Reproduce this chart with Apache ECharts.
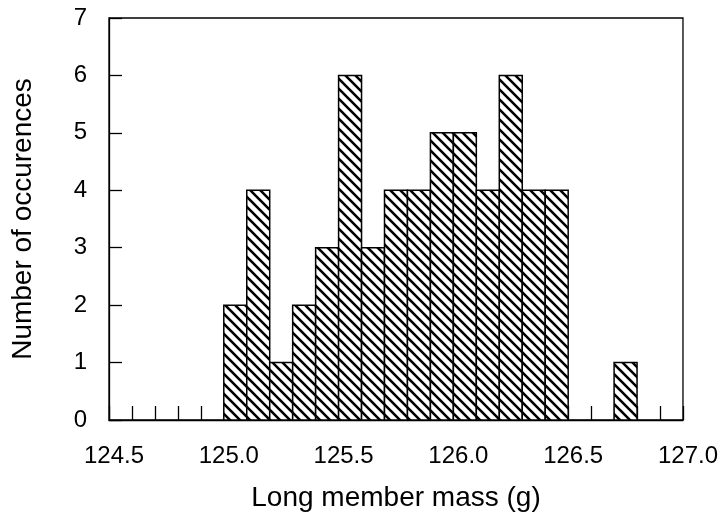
<!DOCTYPE html>
<html>
<head>
<meta charset="utf-8">
<script src="https://cdn.jsdelivr.net/npm/echarts@6/dist/echarts.min.js"></script>
<style>html,body{margin:0;padding:0;background:#fff}#c{width:721px;height:520px}</style>
</head>
<body>
<div id="c"></div>
<script>
// Histogram bins (lower edge, upper edge) and counts
const binStarts = [125.0,125.1,125.2,125.3,125.4,125.5,125.6,125.7,125.8,125.9,126.0,126.1,126.2,126.3,126.4,126.7];
const binEnds   = [125.1,125.2,125.3,125.4,125.5,125.6,125.7,125.8,125.9,126.0,126.1,126.2,126.3,126.4,126.5,126.8];
const counts    = [2,4,1,2,3,6,3,4,4,5,5,4,6,4,4,1];
const xTickLabels = ['124.5','125.0','125.5','126.0','126.5','127.0'];
const yTickLabels = ['0','1','2','3','4','5','6','7'];
const xTitle = 'Long member mass (g)';
const yTitle = 'Number of occurences';

// hatch pattern
const pc = document.createElement('canvas');
pc.width = 10; pc.height = 10;
const g = pc.getContext('2d');
g.fillStyle = '#fff'; g.fillRect(0,0,10,10);
g.strokeStyle = '#000'; g.lineWidth = 2.6;
g.beginPath();
g.moveTo(-5,-5); g.lineTo(15,15);
g.moveTo(-5,5); g.lineTo(5,15);
g.moveTo(5,-5); g.lineTo(15,5);
g.stroke();

const data = binStarts.map((s,i)=>[s, binEnds[i], counts[i]]);
const font = '"Liberation Sans", Arial, Helvetica, sans-serif';

const chart = echarts.init(document.getElementById('c'), null, {renderer:'canvas'});
chart.setOption({
  animation:false,
  backgroundColor:'#fff',
  grid:{left:109, right:38, top:18, bottom:100, show:true, borderColor:'#000', borderWidth:1.3, backgroundColor:'transparent'},
  xAxis:{
    type:'value', min:124.5, max:127.0, interval:0.5,
    name:xTitle, nameLocation:'middle', nameGap:64,
    nameTextStyle:{fontFamily:font, fontSize:28, color:'#000'},
    axisLine:{show:true, lineStyle:{color:'#000', width:1.3}},
    axisTick:{show:true, inside:true, length:14, lineStyle:{color:'#000', width:1.3}},
    minorTick:{show:true, splitNumber:5, length:14, lineStyle:{color:'#000', width:1.3}},
    splitLine:{show:false},
    axisLabel:{fontFamily:font, fontSize:24, color:'#000', margin:24, padding:[0,0,0,10],
      formatter:(v)=>{const i=Math.round((v-124.5)/0.5); return xTickLabels[i]!==undefined?xTickLabels[i]:'';}}
  },
  yAxis:{
    type:'value', min:0, max:7, interval:1,
    name:yTitle, nameLocation:'middle', nameGap:72,
    nameTextStyle:{fontFamily:font, fontSize:28, color:'#000'},
    axisLine:{show:true, lineStyle:{color:'#000', width:1.3}},
    axisTick:{show:true, inside:true, length:13, lineStyle:{color:'#000', width:1.3}},
    splitLine:{show:false},
    axisLabel:{fontFamily:font, fontSize:24, color:'#000', margin:22,
      formatter:(v)=>yTickLabels[Math.round(v)]}
  },
  series:[{
    type:'custom',
    data:data,
    encode:{x:[0,1], y:2},
    renderItem:(params, api)=>{
      const p0 = api.coord([api.value(0), api.value(2)]);
      const p1 = api.coord([api.value(1), 0]);
      return {
        type:'rect',
        shape:{x:p0[0], y:p0[1], width:p1[0]-p0[0], height:p1[1]-p0[1]},
        style:{fill:{image:pc, repeat:'repeat'}, stroke:'#000', lineWidth:1.5}
      };
    }
  }]
});
</script>
</body>
</html>
